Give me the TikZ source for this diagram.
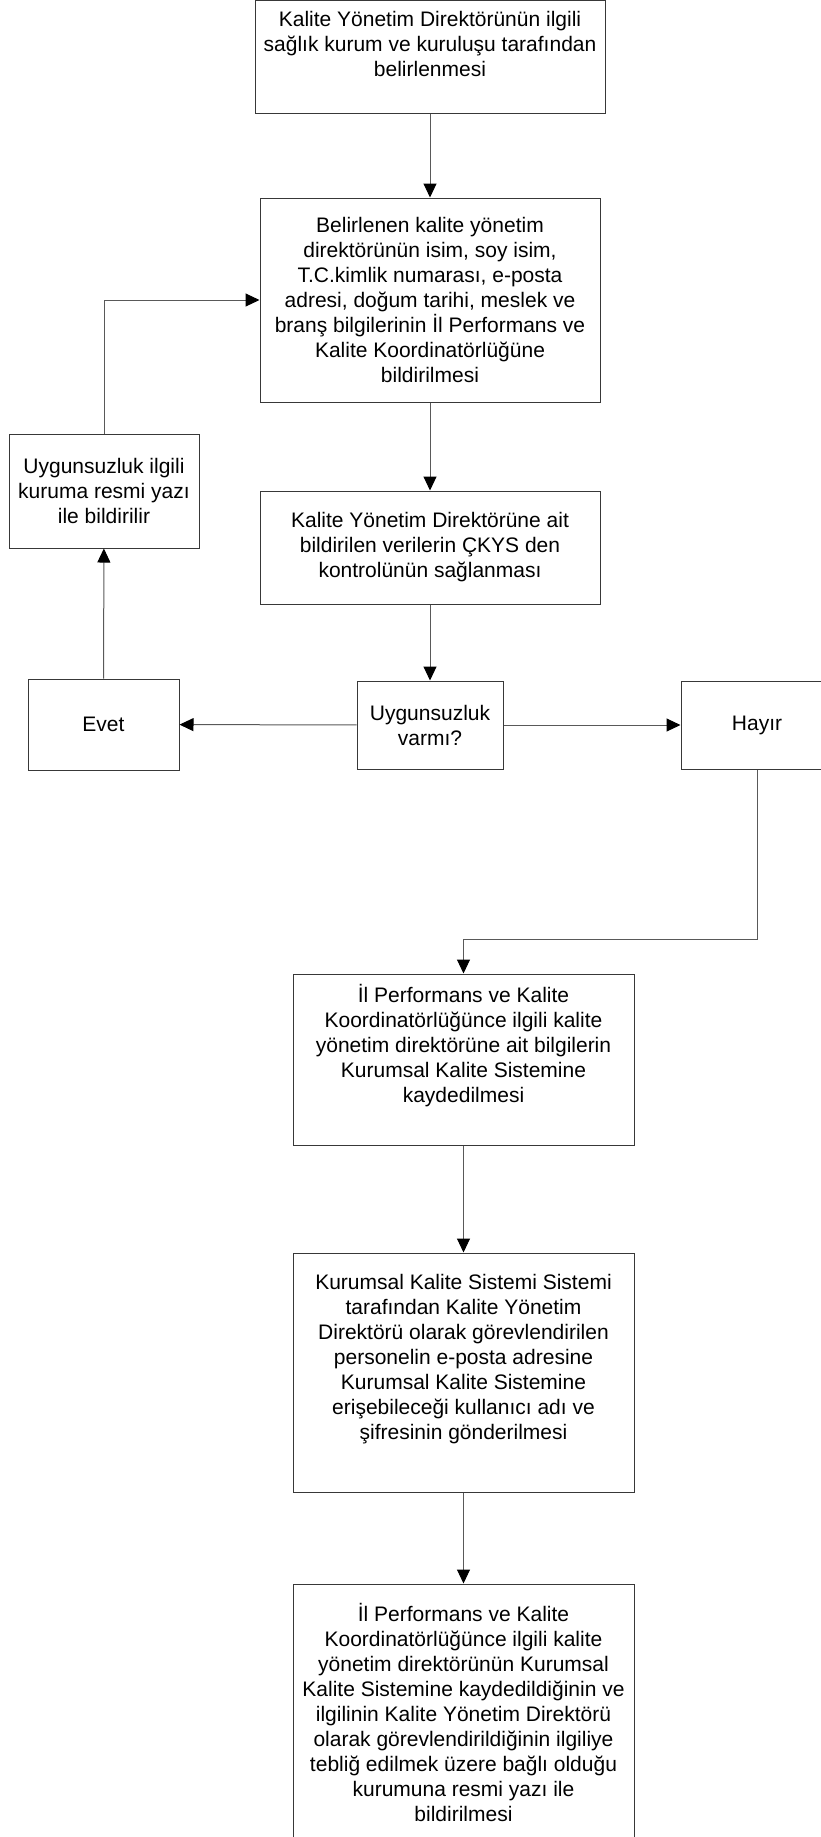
\documentclass[tikz,border=0pt]{standalone}
\usepackage{fontspec}
\setmainfont{Liberation Sans}
\usetikzlibrary{arrows.meta}
\begin{document}
\begin{tikzpicture}[x=1pt,y=-1pt,
  box/.style={draw=black!78,line width=1pt,inner sep=0pt,rectangle},
  txt/.style={align=center,inner sep=0pt,font=\fontsize{21pt}{25pt}\selectfont},
  conn/.style={draw=black!65,line width=1pt,-{Triangle[length=14pt,width=13pt,color=black,fill=black]}}]
\useasboundingbox (0,0) rectangle (821,1837);
\clip (0,0) rectangle (821,1837);
% boxes
\node[box,minimum width=350pt,minimum height=112.5pt] (b1) at (430,56.75) {};
\node[txt] (t1) at (430,44) {Kalite Yönetim Direktörünün ilgili\\sağlık kurum ve kuruluşu tarafından\\belirlenmesi};
\node[box,txt,minimum width=340pt,minimum height=204pt] (b2) at (430,300) {Belirlenen kalite yönetim\\direktörünün isim, soy isim,\\T.C.kimlik numarası, e-posta\\adresi, doğum tarihi, meslek ve\\branş bilgilerinin İl Performans ve\\Kalite Koordinatörlüğüne\\bildirilmesi};
\node[box,txt,minimum width=340pt,minimum height=113pt] (b3) at (430,547.5) {Kalite Yönetim Direktörüne ait\\bildirilen verilerin ÇKYS den\\kontrolünün sağlanması};
\node[box,txt,minimum width=190pt,minimum height=114pt] (L) at (104,491) {Uygunsuzluk ilgili\\kuruma resmi yazı\\ile bildirilir};
\node[box,txt,minimum width=151pt,minimum height=91pt] (evet) at (103.5,724.5) {Evet};
\node[box,txt,minimum width=146pt,minimum height=88pt] (vr) at (430,725) {Uygunsuzluk\\varmı?};
\node[box,txt,minimum width=152pt,minimum height=88pt] (hayir) at (757,725) {Hayır};
\node[box,minimum width=341pt,minimum height=171pt] (b4) at (463.5,1059.5) {};
\node[txt] (t4) at (463.5,1046) {İl Performans ve Kalite\\Koordinatörlüğünce ilgili kalite\\yönetim direktörüne ait bilgilerin\\Kurumsal Kalite Sistemine\\kaydedilmesi};
\node[box,minimum width=341pt,minimum height=239pt] (b5) at (463.5,1372.5) {};
\node[txt] (t5) at (463.5,1359) {Kurumsal Kalite Sistemi Sistemi\\tarafından Kalite Yönetim\\Direktörü olarak görevlendirilen\\personelin e-posta adresine\\Kurumsal Kalite Sistemine\\erişebileceği kullanıcı adı ve\\şifresinin gönderilmesi};
\node[box,minimum width=341pt,minimum height=276pt] (b6) at (463.5,1722) {};
\node[txt] (t6) at (463.5,1712) {İl Performans ve Kalite\\Koordinatörlüğünce ilgili kalite\\yönetim direktörünün Kurumsal\\Kalite Sistemine kaydedildiğinin ve\\ilgilinin Kalite Yönetim Direktörü\\olarak görevlendirildiğinin ilgiliye\\tebliğ edilmek üzere bağlı olduğu\\kurumuna resmi yazı ile\\bildirilmesi};
% connectors
\draw[conn] (b1) -- (b2);
\draw[conn] (b2) -- (b3);
\draw[conn] (b3) -- (vr);
\draw[conn] (vr) -- (evet);
\draw[conn] (vr) -- (hayir);
\draw[conn] (evet) -- (L);
\draw[conn] (L.north) |- (b2.west);
\draw[conn] (hayir.south) -- ++(0,170) -| (b4.north);
\draw[conn] (b4) -- (b5);
\draw[conn] (b5) -- (b6);
\end{tikzpicture}
\end{document}
